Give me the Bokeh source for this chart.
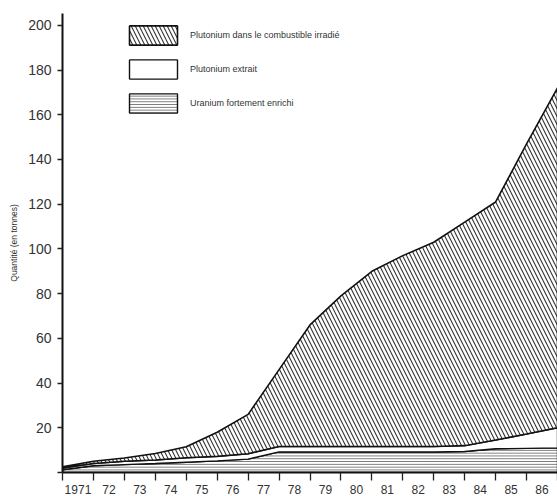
from bokeh.plotting import figure
from bokeh.models import Range1d, FixedTicker, Legend, LegendItem
from bokeh.embed import file_html
from bokeh.resources import INLINE

years = list(range(1971, 1988))
tick_labels = ["1971", "72", "73", "74", "75", "76", "77", "78", "79", "80",
               "81", "82", "83", "84", "85", "86"]
# layer thicknesses (tonnes)
uranium = [1.2, 3.0, 3.5, 4.0, 4.6, 5.2, 6.0, 9.2, 9.2, 9.2, 9.2, 9.2, 9.2, 9.4, 10.6, 10.8, 11.0]
pu_extrait = [0.8, 1.0, 1.5, 1.6, 2.0, 2.0, 2.4, 2.4, 2.4, 2.4, 2.4, 2.4, 2.4, 2.6, 3.9, 6.4, 9.0]
pu_combustible = [0.5, 1.0, 1.5, 2.9, 4.9, 10.8, 17.6, 34.4, 54.4, 67.4, 78.4, 85.4, 91.4, 100.0, 106.5, 129.8, 152.0]

lvl1 = uranium
lvl2 = [a + b for a, b in zip(lvl1, pu_extrait)]
lvl3 = [a + b for a, b in zip(lvl2, pu_combustible)]
zero = [0.0] * len(years)

FONT = "Liberation Sans"

p = figure(width=557, height=496, output_backend="svg", toolbar_location=None,
           x_range=Range1d(1971, 1987), y_range=Range1d(0, 205.3),
           min_border_left=62, min_border_right=0, min_border_top=13, min_border_bottom=24)
p.outline_line_color = None
p.xgrid.visible = False
p.ygrid.visible = False
p.background_fill_color = "white"
p.border_fill_color = "white"

def poly(upper, lower):
    return years + years[::-1], upper + lower[::-1]

xs, ys = poly(lvl1, zero)
r_u = p.patch(xs, ys, fill_color="white", hatch_pattern="-", hatch_color="#555555",
              hatch_scale=2.8, hatch_weight=0.8, line_color="#111111", line_width=1.4)
xs, ys = poly(lvl2, lvl1)
r_e = p.patch(xs, ys, fill_color="white", line_color="#111111", line_width=1.4)
xs, ys = poly(lvl3, lvl2)
r_c = p.patch(xs, ys, fill_color="white", hatch_pattern="\\", hatch_color="#333333",
              hatch_scale=8, hatch_weight=1.1, line_color="#111111", line_width=1.6)

legend = Legend(items=[
    LegendItem(label="Plutonium dans le combustible irradié", renderers=[r_c]),
    LegendItem(label="Plutonium extrait", renderers=[r_e]),
    LegendItem(label="Uranium fortement enrichi", renderers=[r_u]),
], location=(61, 357))
legend.margin = 0
legend.padding = 0
legend.spacing = 10
legend.glyph_width = 60
legend.glyph_height = 24
legend.label_standoff = 7
legend.label_text_font = FONT
legend.label_text_font_size = "9px"
legend.label_text_color = "#333333"
legend.background_fill_alpha = 0
legend.border_line_color = None
p.add_layout(legend)

# x axis: labels centred between year ticks
xa = p.xaxis[0]
xa.ticker = FixedTicker(ticks=[y + 0.5 for y in years[:-1]], minor_ticks=years)
xa.major_label_overrides = {y + 0.5: lab for y, lab in zip(years[:-1], tick_labels)}
xa.major_tick_line_color = None
xa.major_tick_out = 0
xa.major_tick_in = 0
xa.minor_tick_out = 8
xa.minor_tick_in = 0
xa.minor_tick_line_color = "#222222"
xa.minor_tick_line_width = 1.3
xa.major_label_standoff = 4
xa.major_label_text_font = FONT
xa.major_label_text_font_size = "12px"
xa.major_label_text_color = "#333333"
xa.axis_line_width = 2
xa.axis_line_color = "#111111"

ya = p.yaxis[0]
ya.ticker = FixedTicker(ticks=list(range(0, 201, 20)), minor_ticks=[])
ya.major_label_overrides = {0: ""}
ya.major_tick_out = 5
ya.major_tick_in = 0
ya.major_tick_line_color = "#222222"
ya.major_tick_line_width = 1.3
ya.minor_tick_line_color = None
ya.major_label_standoff = 6
ya.major_label_text_font = FONT
ya.major_label_text_font_size = "14px"
ya.major_label_text_color = "#333333"
ya.axis_line_width = 2
ya.axis_line_color = "#111111"
ya.axis_label = "Quantité (en tonnes)"
ya.axis_label_text_font = FONT
ya.axis_label_text_font_size = "8.5px"
ya.axis_label_text_font_style = "normal"
ya.axis_label_text_color = "#333333"
ya.axis_label_standoff = 6

open("out.html", "w").write(file_html(p, INLINE))
